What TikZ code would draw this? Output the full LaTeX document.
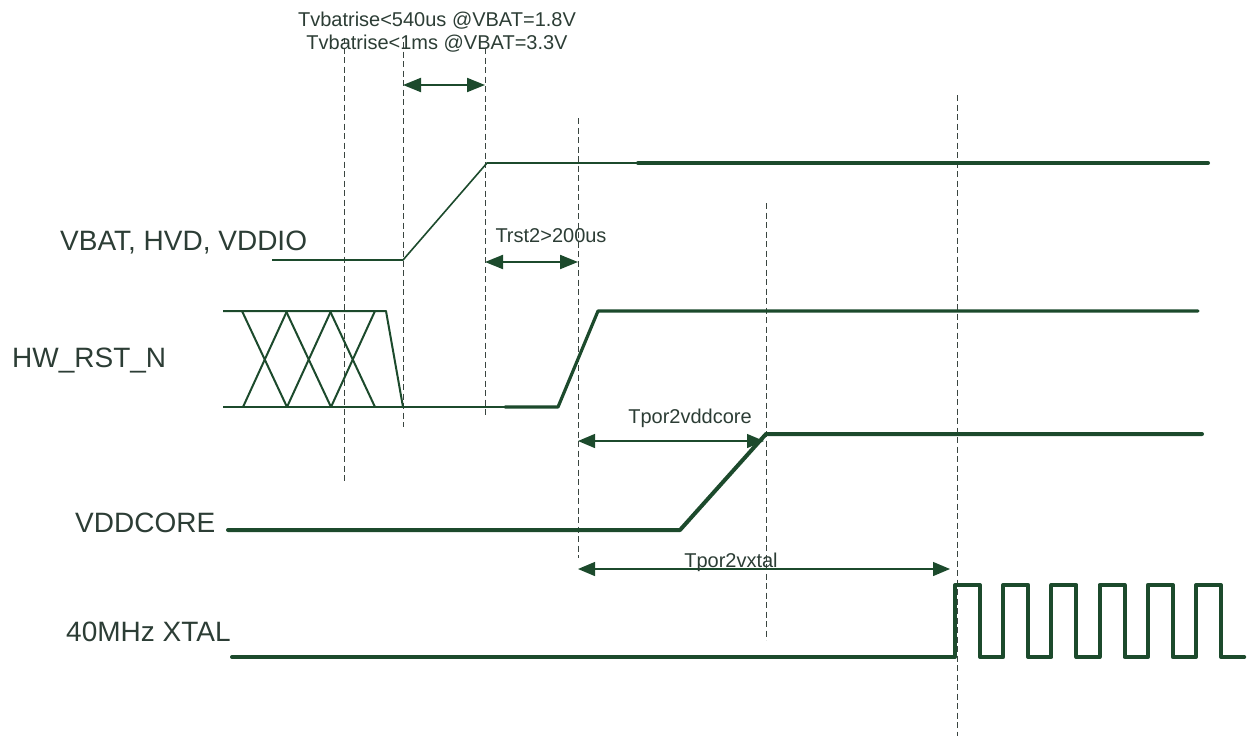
\documentclass[tikz,border=0pt]{standalone}
\usepackage{fontspec}
\setmainfont{Liberation Sans}
\usetikzlibrary{arrows.meta,positioning}
\definecolor{Wave}{HTML}{1C4A2C}
\definecolor{Ink}{HTML}{2C3D35}
\definecolor{Guide}{HTML}{3A4540}
\tikzset{
  lab/.style={font=\fontsize{28}{32}\selectfont,text=Ink,inner sep=0pt,anchor=base west},
  note/.style={font=\fontsize{20}{24}\selectfont,text=Ink,inner sep=0pt,anchor=base},
  guide/.style={draw=Guide,line width=1pt,dash pattern=on 6pt off 3.5pt},
  thinsig/.style={draw=Wave,line width=1.6pt,line join=round},
  xline/.style={draw=Wave,line width=2pt,line join=round},
  sig/.style={draw=Wave,line width=3.2pt,line join=round,line cap=round},
  bigsig/.style={draw=Wave,line width=4pt,line join=round,line cap=round},
  meas/.style={{Triangle[length=18pt,width=14pt]}-{Triangle[length=18pt,width=14pt]},draw=Wave,fill=Wave,line width=2pt},
  span/.style={{Triangle[length=17pt,width=14pt]}-{Triangle[length=17pt,width=14pt]},draw=Wave,fill=Wave,line width=1.3pt}
}
\begin{document}
\begin{tikzpicture}[x=1pt,y=-1pt]
  \useasboundingbox (0,0) rectangle (1249,736);
  % time guides
  \foreach \x/\a/\b in {344/38/484,403/42/427,485/48/417,578/118/558,766/203/640,957/95/736}
    \draw[guide] (\x,\a) -- (\x,\b);
  % signal names
  \node[lab] (vbat) at (60,250) {VBAT, HVD, VDDIO};
  \node[lab] (rst) at (12,367) {HW\_RST\_N};
  \node[lab] (core) at (75,532) {VDDCORE};
  \node[lab] (xtal) at (66,641) {40MHz XTAL};
  % VBAT, HVD, VDDIO
  \draw[thinsig] (272,260) -- (403,260) -- (487,163) -- (638,163);
  \draw[bigsig] (638,163) -- (1208,163);
  % HW_RST_N, undefined before reset
  \foreach \k in {0,1,2} {
    \draw[xline] (243+44*\k,407) -- (287+44*\k,311);
    \draw[xline] (242+44*\k,311) -- (287+44*\k,407);
  }
  \draw[xline] (223,311) -- (386,311) -- (403,407);
  \draw[xline] (223,407) -- (558,407);
  \draw[sig] (505,407) -- (558,407) -- (598,311) -- (1198,311);
  % VDDCORE
  \draw[bigsig] (228,530) -- (680,530) -- (766,434) -- (1202,434);
  % 40MHz XTAL
  \draw[bigsig] (232,657) -- (955,657)
    \foreach \k in {1,...,6} { -- ++(0,-72) -- ++(25,0) -- ++(0,72) -- ++(23.2,0) };
  % timing spans
  \coordinate (vb0) at (403,85);  \coordinate (vb1) at (485,85);
  \coordinate (rs0) at (485,262); \coordinate (rs1) at (578,262);
  \coordinate (vc0) at (578,441); \coordinate (vc1) at (764,441);
  \coordinate (xt0) at (578,569); \coordinate (xt1) at (950,569);
  \draw[meas] (vb0) -- (vb1);
  \draw[meas] (rs0) -- (rs1);
  \draw[span] (vc0) -- (vc1);
  \draw[span] (xt0) -- (xt1);
  \node[note] (rise1) at (437,27) {Tvbatrise<540us @VBAT=1.8V};
  \node[note] (rise2) at (437,49) {Tvbatrise<1ms @VBAT=3.3V};
  \node[note] (trst) at (551,242) {Trst2>200us};
  \node[note] (tcore) at (690,423) {Tpor2vddcore};
  \node[note] (txtal) at (731,567) {Tpor2vxtal};
\end{tikzpicture}
\end{document}
